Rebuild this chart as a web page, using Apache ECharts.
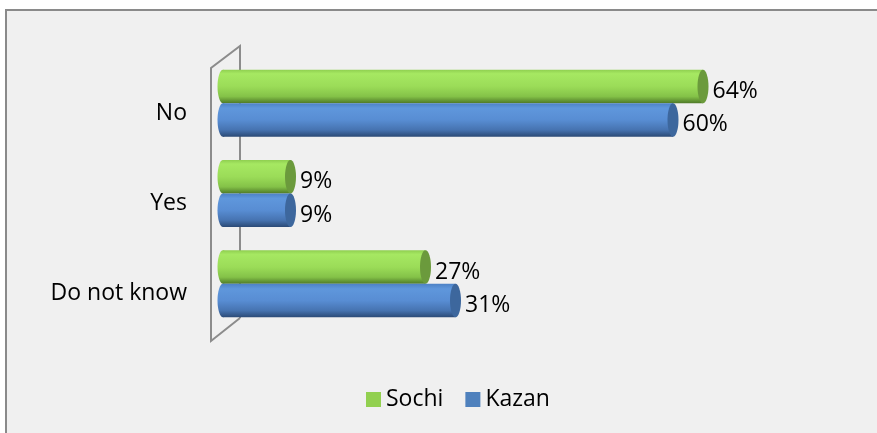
<!DOCTYPE html>
<html>
<head>
<meta charset="utf-8">
<title></title>
<script src="https://cdn.jsdelivr.net/npm/echarts@6/dist/echarts.min.js"></script>
</head>
<body style="margin:0;background:#fff;">
<div id="main" style="width:877px;height:433px;"></div>
<script>
// categories bottom -> top
var categories = ['Do not know', 'Yes', 'No'];
var seriesNames = ['Sochi', 'Kazan'];
var sochi = [27, 9, 64];
var kazan = [31, 9, 60];

var FONT = '"Open Sans", sans-serif';
var BAR_H = 33.5;
var CAP_RX = 5.5;

function grad(stops) {
    return new echarts.graphic.LinearGradient(0, 0, 0, 1, stops);
}
var looks = {
    Sochi: {
        side: -1,
        color: '#92d050',
        body: [
            {offset: 0, color: '#8fcf50'},
            {offset: 0.12, color: '#a6e862'},
            {offset: 0.5, color: '#9bdc58'},
            {offset: 0.8, color: '#84c248'},
            {offset: 1, color: '#4f7a28'}
        ],
        cap: '#6b9a3c'
    },
    Kazan: {
        side: 1,
        color: '#4f81bd',
        body: [
            {offset: 0, color: '#4d82c6'},
            {offset: 0.15, color: '#5f97dc'},
            {offset: 0.5, color: '#588dd3'},
            {offset: 0.8, color: '#4673b0'},
            {offset: 1, color: '#2b4a76'}
        ],
        cap: '#3d679d'
    }
};

function makeRender(name) {
    var look = looks[name];
    return function (params, api) {
        var v = api.value(0);
        var c = api.value(1);
        var p0 = api.coord([0, c]);
        var p1 = api.coord([v, c]);
        var cy = p0[1] + look.side * BAR_H / 2;
        var x0 = p0[0], x1 = p1[0];
        return {
            type: 'group',
            children: [
                {type: 'ellipse', shape: {cx: x0, cy: cy, rx: CAP_RX, ry: BAR_H / 2},
                 style: {fill: grad(look.body)}},
                {type: 'rect', shape: {x: x0, y: cy - BAR_H / 2, width: x1 - x0, height: BAR_H},
                 style: {fill: grad(look.body)}},
                {type: 'ellipse', shape: {cx: x1, cy: cy, rx: CAP_RX, ry: BAR_H / 2},
                 style: {fill: look.cap}},
                {type: 'text', style: {text: v + '%', x: x1 + CAP_RX + 4, y: cy + 5,
                 verticalAlign: 'middle', font: '23px ' + FONT, fill: '#000'}}
            ]
        };
    };
}

function toData(values) {
    return values.map(function (v, i) { return [v, i]; });
}

var chart = echarts.init(document.getElementById('main'));
chart.setOption({
    animation: false,
    backgroundColor: '#ffffff',
    graphic: [
        {type: 'rect', z: -10, shape: {x: 6, y: 10, width: 900, height: 500},
         style: {fill: '#f0f0f0', stroke: '#8a8a8a', lineWidth: 2}},
        {type: 'polyline', z: -5, shape: {points: [[240, 318], [240, 46], [211, 68], [211, 341], [240, 318]]},
         style: {fill: null, stroke: '#8c8c8c', lineWidth: 2}}
    ],
    grid: {left: 223, right: 54, top: 58, bottom: 104},
    xAxis: {type: 'value', min: 0, max: 80, show: false},
    yAxis: {
        type: 'category',
        data: categories,
        axisLine: {show: false},
        axisTick: {show: false},
        splitLine: {show: false},
        axisLabel: {margin: 36, color: '#000', fontSize: 23, fontFamily: FONT,
                    verticalAlign: 'top', lineHeight: 20}
    },
    legend: {
        data: seriesNames,
        left: 361, top: 383,
        icon: 'rect', itemWidth: 15, itemHeight: 15, itemGap: 22,
        textStyle: {color: '#000', fontSize: 23, fontFamily: FONT}
    },
    series: [
        {name: 'Sochi', type: 'custom', renderItem: makeRender('Sochi'), encode: {x: 0, y: 1},
         itemStyle: {color: looks.Sochi.color}, data: toData(sochi)},
        {name: 'Kazan', type: 'custom', renderItem: makeRender('Kazan'), encode: {x: 0, y: 1},
         itemStyle: {color: looks.Kazan.color}, data: toData(kazan)}
    ]
});
</script>
</body>
</html>
